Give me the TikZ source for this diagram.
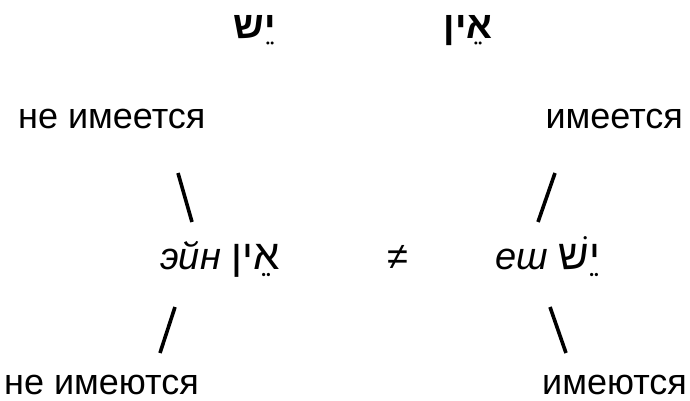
\documentclass[tikz,border=0pt]{standalone}
\usepackage{fontspec}
\setmainfont{Liberation Sans}
\newfontfamily\hebfont[Script=Hebrew]{Liberation Sans}
\TeXXeTstate=1
\usetikzlibrary{positioning}

\begin{document}
\begin{tikzpicture}[x=1pt, y=1pt,
  topword/.style={inner sep=0pt, font=\hebfont\bfseries\fontsize{38}{40}\selectfont},
  sideword/.style={inner sep=0pt, font=\fontsize{36}{40}\selectfont},
  midword/.style={inner sep=0pt, font=\fontsize{38}{40}\selectfont},
  slashline/.style={line width=3.6pt}]
  \useasboundingbox (0,0) rectangle (690,400);
  % top row: the two words
  \node[topword, anchor=base] (yeshtop) at (255,362) {\beginR יֵש\endR};
  \node[topword, anchor=base] (eintop) at (468,362) {\beginR אֵין\endR};
  % translations above
  \node[sideword, anchor=base west] (neimeetsya) at (18,272) {не имеется};
  \node[sideword, anchor=base east] (imeetsya) at (683,272) {имеется};
  % middle row
  \node[midword, anchor=base west] (ein) at (160,131)
    {\textit{эйн} {\hebfont\fontsize{42}{44}\selectfont\beginR אֵין\endR}};
  \node[midword] (neq) at (398,143) {≠};
  \node[midword, anchor=base west] (yesh) at (495,131)
    {\textit{еш} {\hebfont\fontsize{42}{44}\selectfont\beginR יֵשׁ\endR}};
  % translations below
  \node[sideword, anchor=base west] (neimeyutsya) at (4,6) {не имеются};
  \node[sideword, anchor=base east] (imeyutsya) at (687,6) {имеются};
  % slash marks
  \coordinate (ula) at (178,227); \coordinate (ulb) at (192,178);
  \coordinate (ura) at (555,227); \coordinate (urb) at (538,178);
  \coordinate (lla) at (175,93);  \coordinate (llb) at (160,47);
  \coordinate (lra) at (550,93);  \coordinate (lrb) at (566,47);
  \draw[slashline] (ula) -- (ulb);
  \draw[slashline] (ura) -- (urb);
  \draw[slashline] (lla) -- (llb);
  \draw[slashline] (lra) -- (lrb);
\end{tikzpicture}
\end{document}
